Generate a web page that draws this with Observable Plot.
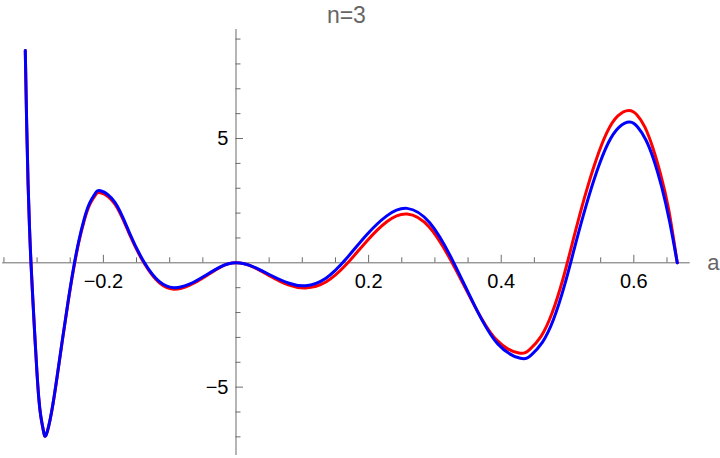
<!DOCTYPE html>
<html>
<head>
<meta charset="utf-8">
<script src="https://cdn.jsdelivr.net/npm/d3@7"></script>
<script src="https://cdn.jsdelivr.net/npm/@observablehq/plot@0.6"></script>
<style>
  html, body { margin: 0; padding: 0; background: #fff; }
  #chart svg { display: block; }
</style>
</head>
<body>
<div id="chart"></div>
<script>
// ---- data ----
const titleText = "n=3";
const axisLabel = "a";

// [a, value] pairs, red series
const redCurve = [
  [-0.3178, 8.54], [-0.3157, 5.6], [-0.3136, 3.2], [-0.3114, 1.4], [-0.3092, 0],
  [-0.3061, -1.62], [-0.3030, -3.13], [-0.3002, -4.4], [-0.2974, -5.45], [-0.2945, -6.15],
  [-0.2905, -6.75], [-0.2863, -6.92],
  [-0.2781, -6.00], [-0.2699, -4.61], [-0.2617, -3.10], [-0.2535, -1.64], [-0.2454, -0.32],
  [-0.2372, 0.81], [-0.2290, 1.69], [-0.2208, 2.33], [-0.2126, 2.70], [-0.2044, 2.82],
  [-0.1823, 2.35], [-0.1602, 1.12], [-0.1380, -0.04], [-0.1159, -0.80], [-0.0938, -1.06],
  [-0.0704, -0.91], [-0.0469, -0.56], [-0.0235, -0.17], [0, 0],
  [0.0263, -0.17], [0.0525, -0.55], [0.0788, -0.89], [0.105, -1.01],
  [0.1356, -0.77], [0.1662, -0.07], [0.1968, 0.86], [0.2274, 1.65], [0.258, 1.96],
  [0.2917, 1.43], [0.3254, 0.03], [0.3592, -1.70], [0.3929, -3.10], [0.4266, -3.63],
  [0.4432, -3.48], [0.4598, -2.97], [0.4764, -2.04], [0.4930, -0.66], [0.5096, 1.03],
  [0.5261, 2.67], [0.5427, 4.11], [0.5593, 5.24], [0.5759, 5.91], [0.5925, 6.13],
  [0.6045, 5.96], [0.6165, 5.47], [0.6285, 4.64], [0.6405, 3.55], [0.6525, 2.15], [0.6655, 0]
];

// [a, value] pairs, blue series
const blueCurve = [
  [-0.3178, 8.54], [-0.3157, 5.6], [-0.3136, 3.2], [-0.3114, 1.4], [-0.3092, 0],
  [-0.3061, -1.62], [-0.3030, -3.13], [-0.3002, -4.4], [-0.2974, -5.45], [-0.2945, -6.15],
  [-0.2905, -6.75], [-0.2863, -6.92],
  [-0.2781, -5.99], [-0.2699, -4.59], [-0.2617, -3.07], [-0.2535, -1.60], [-0.2454, -0.27],
  [-0.2372, 0.87], [-0.2290, 1.76], [-0.2208, 2.40], [-0.2126, 2.78], [-0.2044, 2.90],
  [-0.1823, 2.42], [-0.1602, 1.18], [-0.1380, 0.0], [-0.1159, -0.75], [-0.0938, -1.0],
  [-0.0704, -0.86], [-0.0469, -0.52], [-0.0235, -0.16], [0, 0],
  [0.0263, -0.16], [0.0525, -0.50], [0.0788, -0.81], [0.105, -0.92],
  [0.1356, -0.62], [0.1662, 0.16], [0.1968, 1.12], [0.2274, 1.89], [0.258, 2.19],
  [0.2922, 1.61], [0.3264, 0.11], [0.3606, -1.76], [0.3948, -3.26], [0.429, -3.84],
  [0.4455, -3.70], [0.462, -3.20], [0.4785, -2.30], [0.495, -0.95], [0.5115, 0.70],
  [0.528, 2.30], [0.5445, 3.70], [0.561, 4.80], [0.5775, 5.45], [0.594, 5.66],
  [0.606, 5.45], [0.618, 4.95], [0.630, 4.15], [0.642, 3.05], [0.654, 1.65], [0.6655, 0]
];

const xMajorTicks = [-0.2, 0.2, 0.4, 0.6];
const xTickLabels = ["\u22120.2", "0.2", "0.4", "0.6"];
const xMinorTicks = [-0.35, -0.3, -0.25, -0.15, -0.1, -0.05, 0.05, 0.1, 0.15, 0.25, 0.3, 0.35, 0.45, 0.5, 0.55, 0.65];
const yMajorTicks = [-5, 5];
const yTickLabels = ["\u22125", "5"];
const yMinorTicks = [-7, -6, -4, -3, -2, -1, 1, 2, 3, 4, 6, 7, 8, 9];

// ---- chart ----
const axisColor = "#6b6b6b";
const font = "'Liberation Sans', Arial, Helvetica, sans-serif";

const xTickData = xMajorTicks.map((v, i) => ({v, label: xTickLabels[i]}));
const yTickData = yMajorTicks.map((v, i) => ({v, label: yTickLabels[i]}));

const chart = Plot.plot({
  width: 720,
  height: 458,
  marginLeft: 2.1,
  marginRight: 30.3,
  marginTop: 29,
  marginBottom: 3,
  style: {fontFamily: font, background: "#fff", overflow: "visible"},
  x: {domain: [-0.352, 0.685], axis: null},
  y: {domain: [-7.75, 9.385], axis: null},
  marks: [
    // axes through the origin
    Plot.ruleY([0], {stroke: axisColor, strokeWidth: 1}),
    Plot.ruleX([0], {stroke: axisColor, strokeWidth: 1}),
    // x ticks (drawn upward from the axis)
    Plot.ruleX(xMinorTicks, {x: d => d, y1: 0, y2: 0, insetTop: -5, stroke: axisColor}),
    Plot.ruleX(xMajorTicks, {x: d => d, y1: 0, y2: 0, insetTop: -7.5, stroke: axisColor}),
    // y ticks (drawn rightward from the axis)
    Plot.ruleY(yMinorTicks, {y: d => d, x1: 0, x2: 0, insetRight: -5, stroke: axisColor}),
    Plot.ruleY(yMajorTicks, {y: d => d, x1: 0, x2: 0, insetRight: -7.5, stroke: axisColor}),
    // tick labels
    Plot.text(xTickData, {x: "v", y: 0, text: "label", dy: 19, fontSize: 20, fill: "#000", lineAnchor: "middle"}),
    Plot.text(yTickData, {x: 0, y: "v", text: "label", dx: -7.5, textAnchor: "end", fontSize: 20, fill: "#000", lineAnchor: "middle"}),
    // curves
    Plot.line(redCurve, {x: d => d[0], y: d => d[1], stroke: "#ff0000", strokeWidth: 3, curve: "natural"}),
    Plot.line(blueCurve, {x: d => d[0], y: d => d[1], stroke: "#0000ff", strokeWidth: 3, curve: "natural"}),
    // axis label and title
    Plot.text([axisLabel], {text: d => d, frameAnchor: "right", y: 0, dx: 17, textAnchor: "start", lineAnchor: "middle", fontSize: 22, fill: "#666"}),
    Plot.text([titleText], {text: d => d, frameAnchor: "top", dy: -14, lineAnchor: "middle", fontSize: 23, fill: "#666"})
  ]
});

document.getElementById("chart").appendChild(chart);
</script>
</body>
</html>
